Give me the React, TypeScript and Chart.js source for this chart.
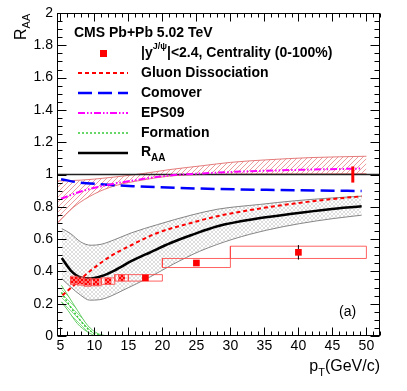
import React, { useEffect, useRef } from "react";
import { Chart, registerables } from "chart.js";

Chart.register(...registerables);

const FONT = "'Liberation Sans', Arial, Helvetica, sans-serif";

// Axes
const X_MIN = 4.5;
const X_MAX = 52;
const Y_MIN = 0;
const Y_MAX = 2;
const X_TICKS = [5, 10, 15, 20, 25, 30, 35, 40, 45, 50];
const X_TICK_LABELS = ["5", "10", "15", "20", "25", "30", "35", "40", "45", "50"];
const Y_TICKS = [0, 0.2, 0.4, 0.6, 0.8, 1, 1.2, 1.4, 1.6, 1.8, 2];
const Y_TICK_LABELS = ["0", "0.2", "0.4", "0.6", "0.8", "1", "1.2", "1.4", "1.6", "1.8", "2"];

// CMS prompt J/psi data, |y|<2.4, 0-100%
const BIN_LO = [6.5, 7.5, 8.5, 9.5, 11, 13, 15, 20, 30];
const BIN_HI = [7.5, 8.5, 9.5, 11, 13, 15, 20, 30, 50];
const PT = [7, 8, 9, 10.25, 12, 14, 17.5, 25, 40];
const RAA = [0.345, 0.34, 0.333, 0.333, 0.34, 0.36, 0.36, 0.452, 0.518];
const STAT = [0.01, 0.01, 0.01, 0.01, 0.01, 0.012, 0.012, 0.015, 0.045];
const SYST = [0.025, 0.025, 0.025, 0.022, 0.02, 0.02, 0.02, 0.028, 0.038];
const HATCHED_BOXES = [true, true, true, true, true, true, false, false, false];
const GLOBAL_X = 48;
const GLOBAL_UNC = 0.05;

// Model: total R_AA and its band
const RAA_X = [5.2, 6.5, 8.0, 9.5, 11.0, 13.0, 15.4, 18.3, 21.2, 24.2, 28.1, 34.4, 39.4, 44.3, 49.3];
const RAA_Y = [0.483, 0.407, 0.362, 0.356, 0.37, 0.407, 0.463, 0.52, 0.576, 0.624, 0.68, 0.73, 0.759, 0.784, 0.803];
const RAA_UP_X = [5.2, 6.5, 8.0, 9.5, 11.0, 13.0, 15.4, 19.3, 24.2, 28.1, 34.4, 39.4, 44.3, 49.3];
const RAA_UP_Y = [0.665, 0.634, 0.582, 0.562, 0.568, 0.597, 0.638, 0.69, 0.748, 0.785, 0.815, 0.837, 0.853, 0.866];
const RAA_LO_X = [5.2, 6.5, 8.0, 9.3, 10.8, 12.3, 14.2, 18.2, 21.6, 25.5, 30.4, 35.3, 40.2, 45.1, 49.3];
const RAA_LO_Y = [0.355, 0.304, 0.252, 0.222, 0.225, 0.245, 0.283, 0.366, 0.445, 0.525, 0.6, 0.655, 0.696, 0.727, 0.748];

// Gluon dissociation
const GLUON_X = [5.3, 7.0, 9.5, 12.45, 15.4, 19.25, 24.2, 28.1, 34.4, 39.4, 44.3, 49.3];
const GLUON_Y = [0.252, 0.315, 0.407, 0.496, 0.562, 0.638, 0.7, 0.742, 0.79, 0.82, 0.845, 0.865];

// Comover
const COMOVER_X = [5.1, 7.8, 10.8, 15.7, 25.6, 35.3, 49.3];
const COMOVER_Y = [0.971, 0.95, 0.94, 0.928, 0.913, 0.905, 0.898];

// EPS09 and its band
const EPS_X = [5.1, 8.0, 11.8, 15.7, 20.6, 25.5, 30.4, 39.3, 49.3];
const EPS_Y = [0.85, 0.895, 0.934, 0.963, 0.992, 1.006, 1.016, 1.028, 1.037];
const EPS_UP_X = [4.6, 8, 12, 17, 21, 26, 30, 35, 42, 50];
const EPS_UP_Y = [0.96, 0.965, 0.98, 1.005, 1.03, 1.055, 1.075, 1.09, 1.105, 1.113];
const EPS_LO_X = [4.6, 7, 10, 13, 17, 21, 26, 35, 50];
const EPS_LO_Y = [0.7, 0.8, 0.88, 0.93, 0.965, 0.99, 1.0, 1.003, 1.005];

// Formation
const FORM_X = [5.15, 6.1, 7.5, 9.0, 10.5, 12.0, 49.3];
const FORM_Y = [0.27, 0.205, 0.12, 0.045, 0.008, 0, 0];
const FORM_UP_X = [5.15, 6.1, 7.5, 9.0, 10.5, 12.0];
const FORM_UP_Y = [0.314, 0.252, 0.159, 0.066, 0.015, 0];
const FORM_LO_X = [5.15, 6.1, 7.5, 9.0, 10.5, 12.0];
const FORM_LO_Y = [0.21, 0.159, 0.077, 0.025, 0, 0];

const UNITY = 1;

const pts = (xs: number[], ys: number[]) => xs.map((x, i) => ({ x, y: ys[i] }));

function makePattern(kind: string, color: string, size: number, lw: number) {
  const c = document.createElement("canvas");
  c.width = size;
  c.height = size;
  const g = c.getContext("2d")!;
  g.strokeStyle = color;
  g.lineWidth = lw;
  g.beginPath();
  if (kind === "fwd" || kind === "cross") {
    g.moveTo(-1, size + 1);
    g.lineTo(size + 1, -1);
    g.moveTo(-1, 1);
    g.lineTo(1, -1);
    g.moveTo(size - 1, size + 1);
    g.lineTo(size + 1, size - 1);
  }
  if (kind === "back" || kind === "cross") {
    g.moveTo(-1, -1);
    g.lineTo(size + 1, size + 1);
    g.moveTo(size - 1, -1);
    g.lineTo(size + 1, 1);
    g.moveTo(-1, size - 1);
    g.lineTo(1, size + 1);
  }
  g.stroke();
  return g.createPattern(c, "repeat")!;
}

const decorPlugin = {
  id: "rootDecor",
  afterDraw(chart: any) {
    const { ctx, chartArea: a, scales } = chart;
    const xs = scales.x;
    const ys = scales.y;
    ctx.save();
    ctx.strokeStyle = "#000";
    ctx.lineWidth = 1;
    ctx.setLineDash([]);
    const L = Math.round(a.left) + 0.5;
    const R = Math.round(a.right) - 0.5;
    const T = Math.round(a.top) + 0.5;
    const B = Math.round(a.bottom) - 0.5;
    ctx.strokeRect(L, T, R - L, B - T);
    ctx.beginPath();
    for (let v = Math.ceil(X_MIN); v <= X_MAX; v += 1) {
      const px = Math.round(xs.getPixelForValue(v)) + 0.5;
      const len = v % 5 === 0 ? 8 : 4;
      ctx.moveTo(px, B);
      ctx.lineTo(px, B - len);
      ctx.moveTo(px, T);
      ctx.lineTo(px, T + len);
    }
    for (let k = 0; k <= 40; k++) {
      const v = Y_MIN + k * 0.05;
      if (v > Y_MAX + 1e-9) break;
      const py = Math.round(ys.getPixelForValue(v)) + 0.5;
      const len = k % 4 === 0 ? 9 : 5;
      ctx.moveTo(L, py);
      ctx.lineTo(L + len, py);
      ctx.moveTo(R, py);
      ctx.lineTo(R - len, py);
    }
    ctx.stroke();

    // Y axis title R_AA (rotated)
    ctx.fillStyle = "#000";
    ctx.save();
    ctx.translate(26, 40);
    ctx.rotate(-Math.PI / 2);
    ctx.textBaseline = "alphabetic";
    ctx.textAlign = "left";
    ctx.font = `16px ${FONT}`;
    ctx.fillText("R", 0, 0);
    const rw = ctx.measureText("R").width;
    ctx.font = `11px ${FONT}`;
    ctx.fillText("AA", rw, 3.5);
    ctx.restore();

    // X axis title p_T(GeV/c), right aligned
    ctx.textBaseline = "alphabetic";
    ctx.textAlign = "left";
    ctx.font = `16px ${FONT}`;
    const wp = ctx.measureText("p").width;
    const wg = ctx.measureText("(GeV/c)").width;
    ctx.font = `11px ${FONT}`;
    const wt = ctx.measureText("T").width;
    const x0 = 380 - (wp + wt + wg);
    ctx.font = `16px ${FONT}`;
    ctx.fillText("p", x0, 371);
    ctx.font = `11px ${FONT}`;
    ctx.fillText("T", x0 + wp, 376);
    ctx.font = `16px ${FONT}`;
    ctx.fillText("(GeV/c)", x0 + wp + wt, 371);

    // (a)
    ctx.font = `14px ${FONT}`;
    ctx.textBaseline = "middle";
    ctx.fillText("(a)", 339, 312);

    // Legend
    const tx = 141;
    const lx0 = 78;
    const lx1 = 128;
    ctx.font = `bold 14px ${FONT}`;
    ctx.textBaseline = "middle";
    ctx.fillText("CMS Pb+Pb 5.02 TeV", 74, 33);

    ctx.fillStyle = "#ff0000";
    ctx.fillRect(100, 50, 7, 7);
    ctx.fillStyle = "#000";
    ctx.font = `bold 14px ${FONT}`;
    ctx.fillText("|y", tx, 53);
    let w = ctx.measureText("|y").width;
    ctx.font = `bold 9px ${FONT}`;
    ctx.fillText("J/\u03c8", tx + w, 47);
    w += ctx.measureText("J/\u03c8").width;
    ctx.font = `bold 14px ${FONT}`;
    ctx.fillText("|<2.4, Centrality (0-100%)", tx + w, 53);

    const sample = (y: number, color: string, width: number, dash: number[]) => {
      ctx.save();
      ctx.strokeStyle = color;
      ctx.lineWidth = width;
      ctx.setLineDash(dash);
      ctx.beginPath();
      ctx.moveTo(lx0, y);
      ctx.lineTo(lx1, y);
      ctx.stroke();
      ctx.restore();
    };
    sample(73, "#ff0000", 2, [4, 3]);
    ctx.fillText("Gluon Dissociation", tx, 73);
    sample(93, "#0000ff", 2.5, [14, 6]);
    ctx.fillText("Comover", tx, 93);
    sample(113, "#ff00ff", 2, [7, 2, 1.5, 2, 1.5, 2]);
    ctx.fillText("EPS09", tx, 113);
    sample(133, "#33cc33", 1.5, [2, 2]);
    ctx.fillText("Formation", tx, 133);
    sample(153, "#000000", 2.5, []);
    ctx.fillText("R", tx, 152);
    const wr = ctx.measureText("R").width;
    ctx.font = `bold 10px ${FONT}`;
    ctx.fillText("AA", tx + wr, 158);

    ctx.restore();
  },
};

export default function App() {
  const ref = useRef<HTMLCanvasElement>(null);

  useEffect(() => {
    const canvas = ref.current!;
    const grayHatch = makePattern("cross", "rgba(150,150,150,0.45)", 4, 0.7);
    const redHatch = makePattern("fwd", "rgba(225,90,90,0.75)", 5, 0.8);
    const greenHatch = makePattern("back", "rgba(80,200,80,0.8)", 4, 0.8);
    const boxHatch = makePattern("cross", "rgba(255,215,215,0.75)", 4, 0.7);

    const curve = (data: any, color: string, width: number, dash: number[], order: number) => ({
      data,
      borderColor: color,
      borderWidth: width,
      borderDash: dash,
      pointRadius: 0,
      fill: false,
      cubicInterpolationMode: "monotone",
      order,
    });

    const datasets: any[] = [];
    datasets.push({
      ...curve(pts(EPS_UP_X, EPS_UP_Y), "rgba(225,110,110,0.9)", 1, [], 20),
      fill: "+1",
      backgroundColor: redHatch,
    });
    datasets.push(curve(pts(EPS_LO_X, EPS_LO_Y), "rgba(225,110,110,0.9)", 1, [], 20));
    datasets.push({
      ...curve(pts(RAA_UP_X, RAA_UP_Y), "rgba(120,120,120,0.9)", 1, [], 19),
      fill: "+1",
      backgroundColor: grayHatch,
    });
    datasets.push(curve(pts(RAA_LO_X, RAA_LO_Y), "rgba(120,120,120,0.9)", 1, [], 19));
    datasets.push({
      ...curve(pts(FORM_UP_X, FORM_UP_Y), "rgba(80,200,80,0.9)", 1, [], 18),
      fill: "+1",
      backgroundColor: greenHatch,
    });
    datasets.push(curve(pts(FORM_LO_X, FORM_LO_Y), "rgba(80,200,80,0.9)", 1, [], 18));
    datasets.push({
      data: [{ x: X_MIN, y: UNITY }, { x: X_MAX, y: UNITY }],
      borderColor: "#222",
      borderWidth: 1.5,
      pointRadius: 0,
      fill: false,
      order: 12,
    });
    datasets.push(curve(pts(EPS_X, EPS_Y), "#ff00ff", 2, [7, 2, 1.5, 2, 1.5, 2], 10));
    datasets.push(curve(pts(COMOVER_X, COMOVER_Y), "#0000ff", 2.5, [14, 6], 10));
    datasets.push(curve(pts(FORM_X, FORM_Y), "#33cc33", 1.5, [2, 2], 10));
    datasets.push(curve(pts(RAA_X, RAA_Y), "#000000", 2.5, [], 9));
    datasets.push(curve(pts(GLUON_X, GLUON_Y), "#ff0000", 2, [4, 3], 8));

    datasets.push({
      data: pts(PT, RAA),
      showLine: false,
      pointStyle: "rect",
      pointRadius: 4.7,
      pointBackgroundColor: "#ff0000",
      pointBorderColor: "#ff0000",
      pointBorderWidth: 0,
      order: 4,
    });
    PT.forEach((x, i) => {
      datasets.push({
        data: [{ x, y: RAA[i] - STAT[i] }, { x, y: RAA[i] + STAT[i] }],
        borderColor: "#000",
        borderWidth: 1,
        pointRadius: 0,
        fill: false,
        order: 5,
      });
    });
    PT.forEach((_, i) => {
      const lo = RAA[i] - SYST[i];
      const hi = RAA[i] + SYST[i];
      datasets.push({
        data: [
          { x: BIN_LO[i], y: lo },
          { x: BIN_HI[i], y: lo },
          { x: BIN_HI[i], y: hi },
          { x: BIN_LO[i], y: hi },
          { x: BIN_LO[i], y: lo },
        ],
        borderColor: "rgba(255,70,70,0.85)",
        borderWidth: 1,
        pointRadius: 0,
        fill: HATCHED_BOXES[i] ? "shape" : false,
        backgroundColor: HATCHED_BOXES[i] ? boxHatch : "transparent",
        order: HATCHED_BOXES[i] ? 2 : 6,
      });
    });
    datasets.push({
      data: [{ x: GLOBAL_X, y: UNITY - GLOBAL_UNC }, { x: GLOBAL_X, y: UNITY + GLOBAL_UNC }],
      borderColor: "#ff0000",
      borderWidth: 3,
      pointRadius: 0,
      fill: false,
      order: 1,
    });

    const chart = new Chart(canvas, {
      type: "line",
      data: { datasets },
      plugins: [decorPlugin],
      options: {
        responsive: false,
        animation: false,
        devicePixelRatio: 1,
        events: [],
        layout: { padding: { left: 0, right: 27, top: 13, bottom: 0 } },
        plugins: { legend: { display: false }, tooltip: { enabled: false } },
        scales: {
          x: {
            type: "linear",
            min: X_MIN,
            max: X_MAX,
            afterBuildTicks: (s: any) => {
              s.ticks = X_TICKS.map((v) => ({ value: v }));
            },
            afterFit: (s: any) => {
              s.height = 55;
            },
            grid: { display: false, drawTicks: false },
            border: { display: false },
            ticks: {
              autoSkip: false,
              maxRotation: 0,
              padding: 2,
              color: "#000",
              font: { family: FONT, size: 14 },
              callback: (_v: any, i: number) => X_TICK_LABELS[i],
            },
          },
          y: {
            type: "linear",
            min: Y_MIN,
            max: Y_MAX,
            afterBuildTicks: (s: any) => {
              s.ticks = Y_TICKS.map((v) => ({ value: v }));
            },
            afterFit: (s: any) => {
              s.width = 57;
            },
            grid: { display: false, drawTicks: false },
            border: { display: false },
            ticks: {
              autoSkip: false,
              padding: 4,
              color: "#000",
              font: { family: FONT, size: 14 },
              callback: (_v: any, i: number) => Y_TICK_LABELS[i],
            },
          },
        },
      } as any,
    } as any);
    return () => chart.destroy();
  }, []);

  return (
    <div style={{ position: "fixed", left: 0, top: 0, width: 407, height: 391, background: "#fff" }}>
      <canvas ref={ref} width={407} height={391} style={{ width: 407, height: 391, display: "block" }} />
    </div>
  );
}
